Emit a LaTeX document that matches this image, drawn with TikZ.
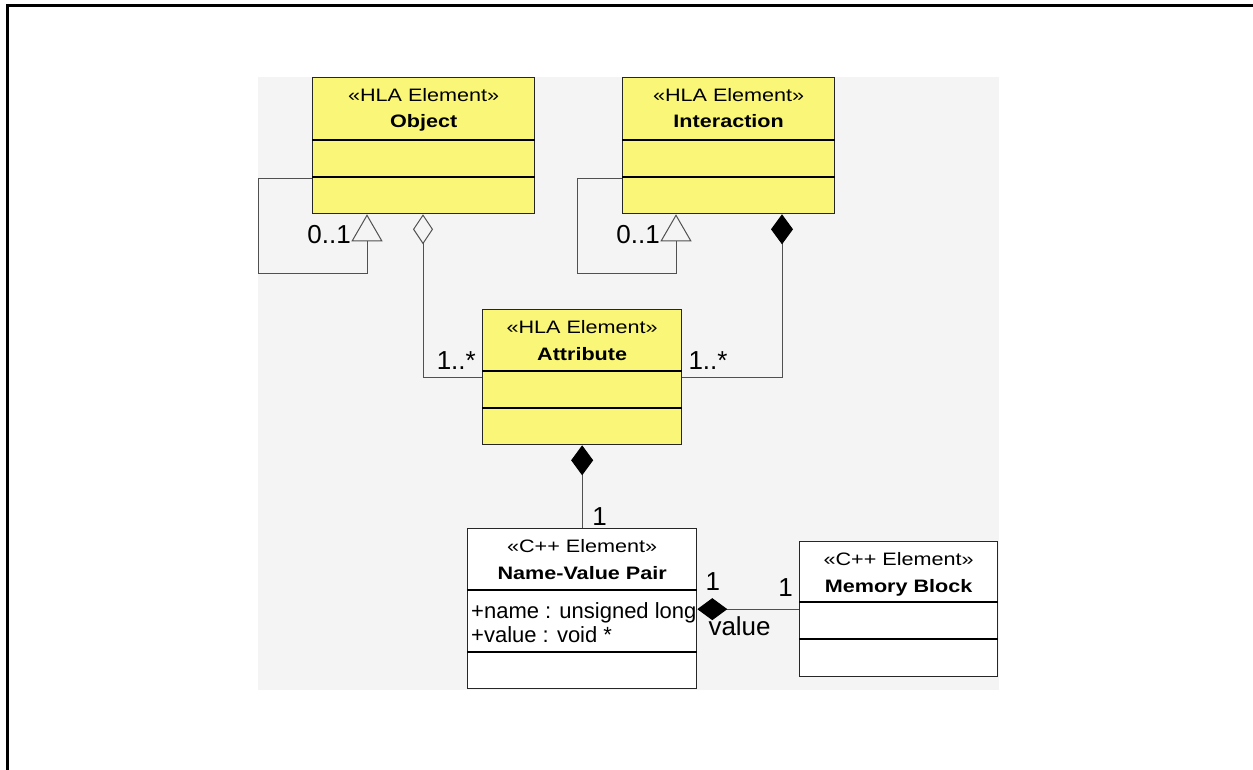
\documentclass[tikz,border=0pt]{standalone}
\usepackage{fontspec}
\setmainfont{Liberation Sans}
\newfontfamily\umlfont[FakeStretch=1.2]{Liberation Sans}
\usetikzlibrary{arrows.meta,calc,positioning}
\definecolor{hlayellow}{RGB}{250,247,120}
\definecolor{diagbg}{RGB}{244,244,244}
\definecolor{linegray}{RGB}{80,80,80}

\tikzset{
  classbox/.style={draw=black!85, line width=1.3pt, anchor=north west, inner sep=0pt},
  hla/.style={classbox, fill=hlayellow},
  cpp/.style={classbox, fill=white},
  stereo/.style={font=\umlfont\fontsize{18}{20}\selectfont, anchor=base, inner sep=0pt},
  cname/.style={font=\umlfont\bfseries\fontsize{18}{20}\selectfont, anchor=base, inner sep=0pt},
  member/.style={font=\fontsize{22}{24}\selectfont, anchor=base west, inner sep=0pt},
  mult/.style={font=\fontsize{26}{28}\selectfont, inner sep=0pt},
  link/.style={draw=linegray, line width=1pt},
  gen/.style={link, -{Triangle[open, length=27pt, width=31pt]}},
  aggr/.style={link, -{Diamond[open, length=30pt, width=20pt]}},
  comp/.style={link, -{Diamond[color=black, length=30pt, width=22pt]}},
}

\begin{document}
\begin{tikzpicture}[x=1pt, y=-1pt]
\useasboundingbox (0,0) rectangle (1253,770);
% frame and background
\draw[line width=3pt] (1253,6) -- (7,6) -- (7,770);
\fill[diagbg] (258,77) rectangle (999,690);

% HLA classes
\node[hla, minimum width=222pt, minimum height=136pt] (object) at (312,77) {};
\node[hla, minimum width=212pt, minimum height=136pt] (interaction) at (622,77) {};
\node[hla, minimum width=199pt, minimum height=135pt] (attribute) at (482,309) {};
% C++ classes
\node[cpp, minimum width=229pt, minimum height=160pt] (nvp) at (467,528) {};
\node[cpp, minimum width=198pt, minimum height=135pt] (memory) at (799,541) {};

% compartments
\foreach \d in {63,100} {
  \draw[line width=1.3pt] ($(object.north west)+(0,\d)$) -- ($(object.north east)+(0,\d)$);
  \draw[line width=1.3pt] ($(interaction.north west)+(0,\d)$) -- ($(interaction.north east)+(0,\d)$);
}
\foreach \d in {62,99}
  \draw[line width=1.3pt] ($(attribute.north west)+(0,\d)$) -- ($(attribute.north east)+(0,\d)$);
\foreach \d in {62,124}
  \draw[line width=1.3pt] ($(nvp.north west)+(0,\d)$) -- ($(nvp.north east)+(0,\d)$);
\foreach \d in {61,98}
  \draw[line width=1.3pt] ($(memory.north west)+(0,\d)$) -- ($(memory.north east)+(0,\d)$);

% names
\node[stereo] (objst) at ($(object.north)+(0,24.5)$) {«HLA Element»};
\node[cname] (objnm) at ($(object.north)+(0,51)$) {Object};
\node[stereo] (intst) at ($(interaction.north)+(0,24.5)$) {«HLA Element»};
\node[cname] (intnm) at ($(interaction.north)+(0,51)$) {Interaction};
\node[stereo] (attst) at ($(attribute.north)+(0,24.5)$) {«HLA Element»};
\node[cname] (attnm) at ($(attribute.north)+(0,51)$) {Attribute};
\node[stereo] (nvpst) at ($(nvp.north)+(0,24.5)$) {«C++ Element»};
\node[cname] (nvpnm) at ($(nvp.north)+(0,51)$) {Name-Value Pair};
\node[stereo] (memst) at ($(memory.north)+(0,24.5)$) {«C++ Element»};
\node[cname] (memnm) at ($(memory.north)+(0,51)$) {Memory Block};

% members
\node[member] (nvpname) at ($(nvp.north west)+(4,90)$) {+name : unsigned long};
\node[member] (nvpvalue) at ($(nvp.north west)+(4,114)$) {+value : void *};

% self generalisations
\draw[gen] ($(object.north west)+(0,102)$) -- ++(-54,0) |- ($(object.south west)+(55,59)$) -- ($(object.south west)+(55,0)$);
\node[mult, anchor=base east] (objself) at ($(object.south west)+(39,29)$) {0..1};
\draw[gen] ($(interaction.north west)+(0,102)$) -- ++(-45,0) |- ($(interaction.south west)+(54,59)$) -- ($(interaction.south west)+(54,0)$);
\node[mult, anchor=base east] (intself) at ($(interaction.south west)+(38,29)$) {0..1};

% attribute links
\draw[aggr] ($(attribute.north west)+(0,68)$) -| ($(object.south west)+(111,0)$);
\node[mult, anchor=base east] (attobj) at ($(attribute.north west)+(-6,60)$) {1..*};
\draw[comp] ($(attribute.north east)+(0,68)$) -| ($(interaction.south west)+(160,0)$);
\node[mult, anchor=base west] (attint) at ($(attribute.north east)+(6,60)$) {1..*};

% name-value pair
\draw[comp] (nvp.north) -- (attribute.south);
\node[mult, anchor=base west] (nvpmult) at ($(nvp.north)+(10,-3)$) {1};
\draw[comp] (memory.west) -- (memory.west -| nvp.east);
\node[mult, anchor=base west] (valmult) at ($(nvp.north east)+(8,62)$) {1};
\node[mult, anchor=base east] (memmult) at ($(memory.north west)+(-6,55)$) {1};
\node[mult, anchor=base west] (valrole) at ($(nvp.north east)+(11,107)$) {value};
\end{tikzpicture}
\end{document}
